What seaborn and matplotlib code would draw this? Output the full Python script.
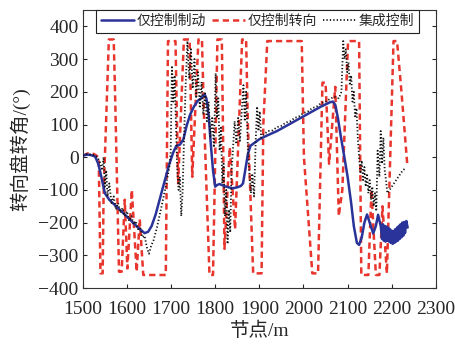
import pandas as pd
import matplotlib
matplotlib.use("Agg")
import matplotlib.pyplot as plt
import seaborn as sns

# 仅控制制动 (blue, solid)
brake_x = [1500, 1510, 1520, 1528, 1535, 1542, 1550, 1560, 1577, 1595, 1610, 1625, 1640, 1648,
           1656, 1665, 1675, 1685, 1695, 1705, 1712, 1720, 1728, 1735, 1743, 1752, 1760, 1768,
           1776, 1780, 1785, 1790, 1795, 1800, 1804, 1810, 1820, 1830, 1840, 1850, 1858, 1863,
           1868, 1874, 1880, 1890, 1900, 1917, 1940, 1960, 1980, 2000, 2020, 2040, 2060, 2067,
           2072, 2078, 2085, 2092, 2100, 2108, 2114, 2121, 2126, 2132, 2138, 2144, 2150, 2158,
           2164, 2169, 2175, 2178, 2180, 2182, 2184, 2186, 2188, 2190, 2192, 2194, 2196, 2198,
           2200, 2202, 2204, 2206, 2208, 2210, 2212, 2214, 2216, 2218, 2220, 2222, 2224, 2226,
           2228, 2230, 2233, 2236]
brake_y = [5, 8, 6, 2, -20, -60, -110, -130, -152, -175, -195, -215, -232, -228,
           -210, -175, -125, -75, -25, 15, 35, 38, 55, 95, 130, 155, 172, 180,
           192, 180, 130, 40, -40, -90, -85, -82, -88, -92, -95, -92, -88, -80,
           -40, 10, 35, 45, 55, 66, 80, 95, 110, 125, 140, 155, 168, 170,
           160, 120, 60, 5, -60, -140, -210, -262, -268, -245, -200, -175, -200, -233,
           -210, -176, -210, -250, -205, -255, -210, -258, -212, -255, -215, -258, -220, -262,
           -225, -265, -225, -262, -220, -258, -215, -255, -210, -250, -205, -245, -200, -240,
           -198, -232, -195, -215]

# 仅控制转向 (red, dashed)
steer_x = [1500, 1512, 1525, 1536, 1540, 1545, 1547, 1559, 1570, 1573, 1582, 1588, 1595, 1601,
           1611, 1622, 1629, 1637, 1688, 1693, 1710, 1716, 1729, 1742, 1748, 1762, 1770, 1774,
           1787, 1795, 1805, 1815, 1821, 1833, 1845, 1861, 1870, 1874, 1886, 1905, 1909, 1918,
           1996, 2001, 2020, 2033, 2043, 2050, 2058, 2072, 2080, 2088, 2101, 2126, 2131, 2147,
           2154, 2164, 2172, 2179, 2189, 2204, 2212, 2222, 2235]
steer_y = [5, 12, 10, 0, -355, -355, -120, 360, 360, 200, -350, -350, -130, -340,
           -100, -350, -190, -360, -360, 355, 355, -80, 360, 360, -60, 360, 360, 150,
           -360, -360, 360, 360, -280, 30, -220, 360, 360, 100, -355, -355, 100, 355,
           355, 0, -355, -355, 228, 228, -20, 215, -180, -100, 355, 355, -360, -360,
           -100, -360, -360, -150, -355, 355, 355, 200, -20]

# 集成控制 (black, dotted)
integ_x = [1500, 1510, 1520, 1530, 1538, 1544, 1547, 1550, 1553, 1556, 1560, 1565, 1570, 1575,
           1580, 1585, 1590, 1595, 1600, 1605, 1610, 1615, 1620, 1625, 1630, 1635, 1640, 1645,
           1650, 1655, 1660, 1664, 1668, 1672, 1676, 1680, 1684, 1688, 1692, 1696, 1699, 1702,
           1705, 1708, 1711, 1714, 1717, 1720, 1723, 1726, 1729, 1733, 1737, 1741, 1745, 1749,
           1753, 1757, 1761, 1765, 1769, 1773, 1777, 1781, 1785, 1789, 1793, 1797, 1801, 1804,
           1807, 1810, 1813, 1816, 1819, 1822, 1825, 1828, 1831, 1834, 1837, 1840, 1844, 1848,
           1852, 1856, 1860, 1864, 1867, 1870, 1874, 1878, 1881, 1884, 1888, 1892, 1895, 1898,
           1901, 1904, 1910, 1920, 1930, 1940, 1950, 1960, 1970, 1980, 1990, 2000, 2010, 2020,
           2030, 2040, 2050, 2060, 2070, 2080, 2086, 2090, 2093, 2096, 2099, 2102, 2105, 2108,
           2111, 2114, 2117, 2120, 2123, 2126, 2129, 2132, 2135, 2138, 2141, 2144, 2147, 2150,
           2153, 2156, 2159, 2162, 2165, 2168, 2172, 2175, 2178, 2181, 2184, 2187, 2190, 2195,
           2200, 2205, 2210, 2215, 2220, 2225, 2230]
integ_y = [5, 10, 8, 3, -10, -40, 0, -90, -40, -120, -80, -140, -120, -160,
           -140, -170, -155, -180, -165, -195, -180, -205, -195, -220, -215, -245, -240, -275,
           -295, -270, -255, -235, -215, -190, -165, -140, -115, -90, -60, -30, 10, 280,
           170, 250, 100, -40, -100, -60, -180, -110, 40, 220, 355, 240, 330, 210,
           300, 180, 260, 150, 230, 130, 200, 110, 170, 60, 120, 30, 257, 120,
           180, 20, 90, -80, -20, -180, -100, -265, -160, -230, -40, 20, 110, 40,
           120, 50, 140, 220, 110, 200, 30, -60, -110, -50, -120, 60, 155, 80,
           140, 60, 70, 80, 82, 92, 96, 106, 110, 120, 125, 135, 140, 150,
           155, 165, 170, 178, 185, 180, 200, 355, 300, 330, 260, 290, 220, 250,
           170, 200, 120, 150, 60, 0, -50, -10, -70, -30, -90, -50, -110, -70,
           -130, -90, -150, -110, -165, 20, -60, 80, -20, 60, -40, -70, -110, -100,
           -90, -80, -70, -60, -50, -40, -35]

x_ticks = [1500, 1600, 1700, 1800, 1900, 2000, 2100, 2200, 2300]
y_ticks = [-400, -300, -200, -100, 0, 100, 200, 300, 400]

sns.set_style("ticks")
plt.rcParams['font.family'] = ['Liberation Serif', 'Noto Sans CJK SC', 'DejaVu Sans']
plt.rcParams['xtick.direction'] = 'in'
plt.rcParams['ytick.direction'] = 'in'

brake = pd.DataFrame({'x': brake_x, 'y': brake_y})
steer = pd.DataFrame({'x': steer_x, 'y': steer_y})
integ = pd.DataFrame({'x': integ_x, 'y': integ_y})

fig = plt.figure(figsize=(4.55, 3.45), dpi=100)
ax = fig.add_axes([0.182, 0.165, 0.776, 0.806])

sns.lineplot(data=brake, x='x', y='y', ax=ax, sort=False, estimator=None,
             color='#2a3399', linewidth=1.8, label='仅控制制动', zorder=3)
sns.lineplot(data=steer, x='x', y='y', ax=ax, sort=False, estimator=None,
             color='#e8352d', linewidth=1.8, label='仅控制转向', zorder=2)
ax.lines[-1].set_dashes((2.5, 1.6))
sns.lineplot(data=integ, x='x', y='y', ax=ax, sort=False, estimator=None,
             color='#111111', linewidth=1.3, label='集成控制', zorder=4)
ax.lines[-1].set_dashes((0.7, 1.2))

ax.set_xlim(1500, 2300)
ax.set_ylim(-400, 450)
ax.set_xticks(x_ticks)
ax.set_yticks(y_ticks)
ax.tick_params(labelsize=14, top=True, right=True, length=3, width=0.8)
ax.tick_params(axis='x', pad=9)
ax.tick_params(axis='y', pad=3)
for s in ax.spines.values():
    s.set_linewidth(0.8)
    s.set_color('#333333')

ax.set_xlabel('节点/m', fontsize=14, labelpad=3)
ax.set_ylabel('转向盘转角/(°)', fontsize=14, labelpad=6)

leg = ax.legend(loc='upper center', bbox_to_anchor=(0.495, 1.0), ncol=3, fontsize=10,
                frameon=True, fancybox=False, edgecolor='#222222', borderaxespad=0,
                handlelength=2.4, columnspacing=0.4, handletextpad=0.2, borderpad=0.35)
leg.get_frame().set_linewidth(0.8)
leg.get_frame().set_alpha(1)

fig.savefig('out.png', dpi=100)
